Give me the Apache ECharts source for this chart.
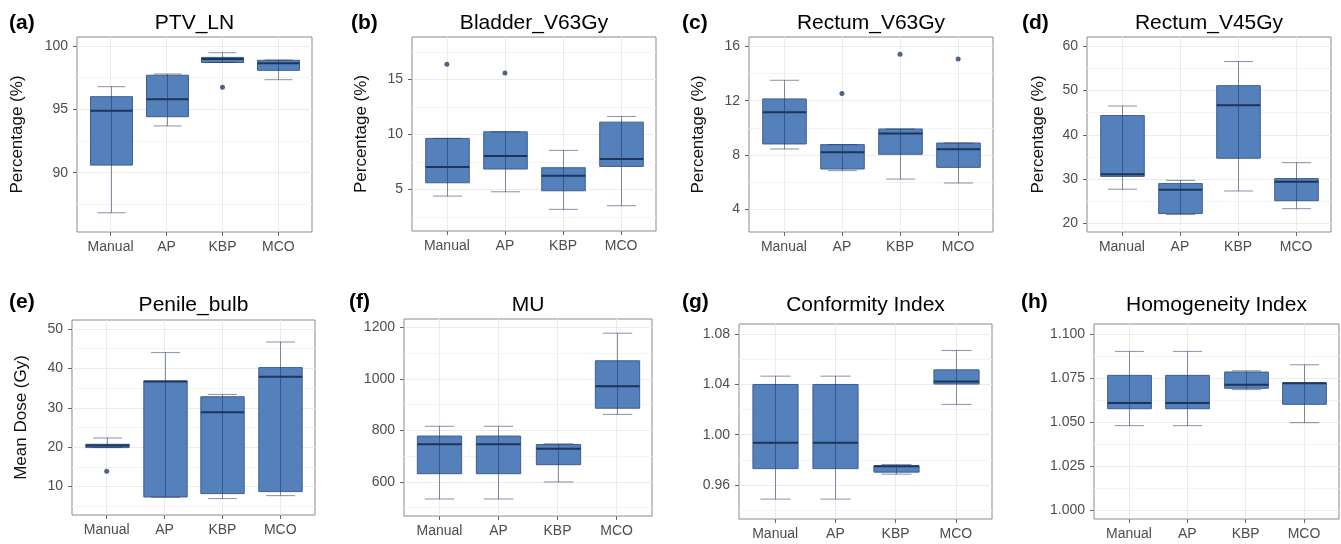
<!DOCTYPE html>
<html><head><meta charset="utf-8">
<script src="https://cdn.jsdelivr.net/npm/echarts@6/dist/echarts.min.js"></script>
<style>html,body{margin:0;padding:0;background:#fff;}#c{width:1341px;height:544px;}</style>
</head><body><div id="c"></div>
<script>
// ---------- DATA ----------
const categories = ['Manual', 'AP', 'KBP', 'MCO'];
// rows: [lower whisker, Q1, median, Q3, upper whisker]
const ptvLN = [[86.84, 90.6, 94.89, 96.0, 96.79], [93.69, 94.42, 95.79, 97.69, 97.79], [98.7, 98.7, 98.97, 99.1, 99.47], [97.34, 98.08, 98.63, 98.87, 98.9]];
const ptvLNOut = [[2, 96.74]];
const bladderV63 = [[4.39, 5.6, 7.03, 9.64, 9.64], [4.78, 6.85, 8.03, 10.24, 10.24], [3.18, 4.87, 6.24, 6.97, 8.55], [3.51, 7.09, 7.76, 11.12, 11.64]];
const bladderV63Out = [[0, 16.39], [1, 15.6]];
const rectumV63 = [[8.45, 8.82, 11.15, 12.13, 13.5], [6.86, 6.98, 8.21, 8.77, 8.77], [6.24, 8.06, 9.58, 9.92, 9.92], [5.95, 7.1, 8.43, 8.89, 8.89]];
const rectumV63Out = [[1, 12.52], [2, 15.41], [3, 15.07]];
const rectumV45 = [[27.7, 30.6, 31.07, 44.34, 46.5], [21.97, 22.2, 27.6, 28.97, 29.7], [27.3, 34.7, 46.7, 51.1, 56.55], [23.3, 25.1, 29.4, 30.1, 33.7]];
const rectumV45Out = [];
const penileBulb = [[19.9, 19.9, 20.4, 20.74, 22.34], [7.3, 7.36, 36.65, 36.8, 44.0], [6.95, 8.22, 28.86, 32.8, 33.4], [7.7, 8.73, 37.9, 40.2, 46.7]];
const penileBulbOut = [[0, 13.9]];
const mu = [[534, 632, 746, 778, 816], [534, 632, 746, 778, 816], [600, 667, 729, 745, 748], [862, 886, 971, 1070, 1177]];
const muOut = [];
const conformity = [[0.9489, 0.9731, 0.9937, 1.0399, 1.0465], [0.9489, 0.9731, 0.9937, 1.0399, 1.0465], [0.9687, 0.9703, 0.975, 0.9753, 0.9763], [1.0241, 1.0402, 1.0423, 1.0515, 1.0669]];
const conformityOut = [];
const homogeneity = [[1.048, 1.0576, 1.0608, 1.0765, 1.0901], [1.048, 1.0576, 1.0608, 1.0765, 1.0901], [1.0684, 1.0692, 1.0712, 1.0784, 1.0791], [1.0497, 1.0601, 1.072, 1.0723, 1.0825]];
const homogeneityOut = [];

const ticksA = [90, 95, 100];
const ticksB = [5, 10, 15];
const ticksC = [4, 8, 12, 16];
const ticksD = [20, 30, 40, 50, 60];
const ticksE = [10, 20, 30, 40, 50];
const ticksF = [600, 800, 1000, 1200];
const ticksG = [0.96, 1.00, 1.04, 1.08];
const ticksH = [1.000, 1.025, 1.050, 1.075, 1.100];

// ---------- LAYOUT ----------
const panels = [
  {lab: '(a)', title: 'PTV_LN', yName: 'Percentage (%)', box: ptvLN, out: ptvLNOut, ticks: ticksA, step: 5, dec: 0, min: 85.32, max: 100.71, g: [77, 37, 235, 195], gap: 51, labX: 9},
  {lab: '(b)', title: 'Bladder_V63Gy', yName: 'Percentage (%)', box: bladderV63, out: bladderV63Out, ticks: ticksB, step: 5, dec: 0, min: 1.21, max: 18.87, g: [412, 37, 244, 194], gap: 42, labX: 351},
  {lab: '(c)', title: 'Rectum_V63Gy', yName: 'Percentage (%)', box: rectumV63, out: rectumV63Out, ticks: ticksC, step: 4, dec: 0, min: 2.35, max: 16.68, g: [749, 37, 244, 195], gap: 42, labX: 682},
  {lab: '(d)', title: 'Rectum_V45Gy', yName: 'Percentage (%)', box: rectumV45, out: rectumV45Out, ticks: ticksD, step: 10, dec: 0, min: 18.03, max: 62.1, g: [1087, 37, 244, 195], gap: 40, labX: 1022},
  {lab: '(e)', title: 'Penile_bulb', yName: 'Mean Dose (Gy)', box: penileBulb, out: penileBulbOut, ticks: ticksE, step: 10, dec: 0, min: 2.79, max: 52.28, g: [72, 320, 243, 195], gap: 42, labX: 9},
  {lab: '(f)', title: 'MU', yName: '', box: mu, out: muOut, ticks: ticksF, step: 200, dec: 0, min: 468, max: 1232, g: [404, 319, 248, 197], gap: 42, labX: 349},
  {lab: '(g)', title: 'Conformity Index', yName: '', box: conformity, out: conformityOut, ticks: ticksG, step: 0.04, dec: 2, min: 0.9331, max: 1.0879, g: [739, 324, 253, 195], gap: 42, labX: 682},
  {lab: '(h)', title: 'Homogeneity Index', yName: '', box: homogeneity, out: homogeneityOut, ticks: ticksH, step: 0.025, dec: 3, min: 0.99514, max: 1.1056, g: [1094, 324, 245, 195], gap: 42, labX: 1021}
];

const F = "'Liberation Sans', Arial, Helvetica, sans-serif";
const catIdx = categories.map((_, i) => i);

function renderBox(params, api) {
  const x = api.value(0);
  const pLo = api.coord([x, api.value(1)]);
  const pQ1 = api.coord([x, api.value(2)]);
  const pMed = api.coord([x, api.value(3)]);
  const pQ3 = api.coord([x, api.value(4)]);
  const pHi = api.coord([x, api.value(5)]);
  const band = api.size([1, 0])[0];
  const bw = band * 0.75, cw = band * 0.5;
  const cx = Math.round(pLo[0]) + 0.5;
  const wStyle = {stroke: 'rgba(35,55,95,0.55)', lineWidth: 1};
  return {
    type: 'group',
    children: [
      {type: 'rect', shape: {x: cx - bw / 2, y: pQ3[1], width: bw, height: pQ1[1] - pQ3[1]},
        style: {fill: '#5480BB', stroke: '#3E5E90', lineWidth: 1}},
      {type: 'line', shape: {x1: cx, y1: pLo[1], x2: cx, y2: pHi[1]}, style: wStyle},
      {type: 'line', shape: {x1: cx - cw / 2, y1: pHi[1], x2: cx + cw / 2, y2: pHi[1]}, style: wStyle},
      {type: 'line', shape: {x1: cx - cw / 2, y1: pLo[1], x2: cx + cw / 2, y2: pLo[1]}, style: wStyle},
      {type: 'line', shape: {x1: cx - bw / 2, y1: pMed[1], x2: cx + bw / 2, y2: pMed[1]},
        style: {stroke: '#1D3558', lineWidth: 2}}
    ]
  };
}

const grids = [], xAxes = [], yAxes = [], series = [], graphics = [];
panels.forEach((p, i) => {
  const [L, T, W, H] = p.g;
  grids.push({left: L, top: T, width: W, height: H, show: true, borderColor: '#8A8A8A', borderWidth: 1, backgroundColor: '#fff'});
  xAxes.push({
    type: 'value', gridIndex: i, position: 'bottom', min: -0.6, max: 3.6, minInterval: 1, maxInterval: 1,
    axisLine: {show: false, onZero: false},
    axisTick: {show: true, length: 4, lineStyle: {color: '#666'}, customValues: catIdx},
    axisLabel: {customValues: catIdx, formatter: v => categories[Math.round(v)], margin: 8, fontSize: 14, color: '#4D4D4D', fontFamily: F},
    splitLine: {show: true, lineStyle: {color: '#EBEBEB', width: 1}}
  });
  yAxes.push({
    type: 'value', gridIndex: i, position: 'left', min: p.min, max: p.max, minInterval: p.step, maxInterval: p.step,
    name: p.yName, nameLocation: 'middle', nameGap: p.gap,
    nameTextStyle: {fontSize: 17, color: '#111', fontFamily: F},
    axisLine: {show: false, onZero: false},
    axisTick: {show: true, length: 4, lineStyle: {color: '#666'}, customValues: p.ticks},
    axisLabel: {customValues: p.ticks, margin: 9, fontSize: 14, color: '#4D4D4D', fontFamily: F, formatter: v => Number(v).toFixed(p.dec)},
    splitLine: {show: true, lineStyle: {color: '#EBEBEB', width: 1}},
    minorTick: {show: false, splitNumber: 2},
    minorSplitLine: {show: true, lineStyle: {color: '#F4F4F4', width: 1}}
  });
  series.push({
    type: 'custom', xAxisIndex: i, yAxisIndex: i, renderItem: renderBox,
    encode: {x: 0, y: [1, 2, 3, 4, 5]},
    data: p.box.map((r, k) => [k].concat(r)), z: 2
  });
  series.push({
    type: 'scatter', xAxisIndex: i, yAxisIndex: i, symbolSize: 5,
    itemStyle: {color: '#263F63'}, data: p.out, z: 3
  });
  const topRow = i < 4;
  graphics.push({type: 'text', x: L + W / 2, y: topRow ? 23.5 : 305.5,
    style: {text: p.title, align: 'center', verticalAlign: 'middle', fontSize: 21, fill: '#000', fontFamily: F}});
  graphics.push({type: 'text', x: p.labX, y: topRow ? 23 : 302,
    style: {text: p.lab, align: 'left', verticalAlign: 'middle', fontSize: 21, fontWeight: 'bold', fill: '#000', fontFamily: F}});
});

const chart = echarts.init(document.getElementById('c'), null, {renderer: 'canvas'});
chart.setOption({
  animation: false,
  backgroundColor: '#fff',
  grid: grids, xAxis: xAxes, yAxis: yAxes, series: series, graphic: graphics
});
</script></body></html>
